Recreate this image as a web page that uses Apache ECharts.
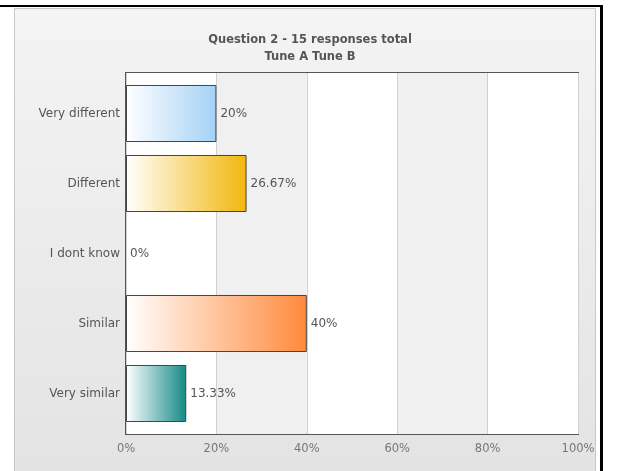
<!DOCTYPE html>
<html><head><meta charset="utf-8">
<script src="https://cdn.jsdelivr.net/npm/echarts@6/dist/echarts.min.js"></script>
<style>html,body{margin:0;padding:0;background:#fff}#c{width:622px;height:471px}</style>
</head><body><div id="c"></div>
<script>
const categories = ['Very different', 'Different', 'I dont know', 'Similar', 'Very similar'];
const values = [20, 26.67, 0, 40, 13.33];
const barColors = ['#a4d1f6', '#f1b70c', '#cccccc', '#ff8a3d', '#148a87'];
const titleText = 'Question 2 - 15 responses total';
const subText = 'Tune A Tune B';

const chart = echarts.init(document.getElementById('c'), null, {renderer: 'canvas'});
const font = 'DejaVu Sans, Verdana, sans-serif';
const data = values.map((v, i) => ({
  value: v,
  itemStyle: {
    borderWidth: v === 0 ? 0 : 1,
    color: new echarts.graphic.LinearGradient(0, 0, 1, 0, [
      {offset: 0, color: '#ffffff'}, {offset: 1, color: barColors[i]}
    ])
  }
}));
chart.setOption({
  animation: false,
  graphic: [
    {type: 'rect', z: -10, shape: {x: 14.5, y: 8.5, width: 581, height: 470},
     style: {fill: new echarts.graphic.LinearGradient(0, 0, 0, 1, [{offset: 0, color: '#f4f4f4'}, {offset: 1, color: '#e3e3e3'}]), stroke: '#c8c8c8', lineWidth: 1}},
    {type: 'rect', z: 10, shape: {x: 0, y: 5, width: 603, height: 2}, style: {fill: '#000'}},
    {type: 'rect', z: 10, shape: {x: 600, y: 5, width: 3, height: 466}, style: {fill: '#000'}}
  ],
  title: {
    text: titleText, subtext: subText, left: 305, textAlign: 'center', top: 29, itemGap: 5,
    textStyle: {fontFamily: font, fontSize: 11.5, fontWeight: 'bold', color: '#555'},
    subtextStyle: {fontFamily: font, fontSize: 11.5, fontWeight: 'bold', color: '#555'}
  },
  grid: [
    {left: 126, right: 44, top: 73, bottom: 37, show: true, borderColor: '#555', borderWidth: 2, backgroundColor: '#fff'},
    {left: 126, right: 44, top: 78.5, bottom: 42.5, show: false}
  ],
  xAxis: [{
    gridIndex: 0, type: 'value', min: 0, max: 100, interval: 20,
    axisLine: {show: false}, axisTick: {show: false},
    splitLine: {show: true, lineStyle: {color: '#d0d0d0', width: 1}},
    splitArea: {show: true, areaStyle: {color: ['#ffffff', '#f0f0f0']}},
    axisLabel: {fontFamily: font, fontSize: 11.5, color: '#777', margin: 9, formatter: v => v + '%'}
  }, {
    gridIndex: 1, type: 'value', min: 0, max: 100, show: false
  }],
  yAxis: [{
    gridIndex: 0, type: 'category', data: categories, show: false
  }, {
    gridIndex: 1, type: 'category', inverse: true, data: categories,
    axisLine: {show: false}, axisTick: {show: false},
    axisLabel: {fontFamily: font, fontSize: 12, color: '#555', margin: 6}
  }],
  series: [{
    type: 'bar', xAxisIndex: 1, yAxisIndex: 1, data: data, barWidth: '81.5%',
    itemStyle: {borderColor: '#444', borderWidth: 1},
    label: {show: true, position: 'right', distance: 4, fontFamily: font, fontSize: 12, color: '#555',
      formatter: p => p.value + '%'}
  }]
});
</script></body></html>
